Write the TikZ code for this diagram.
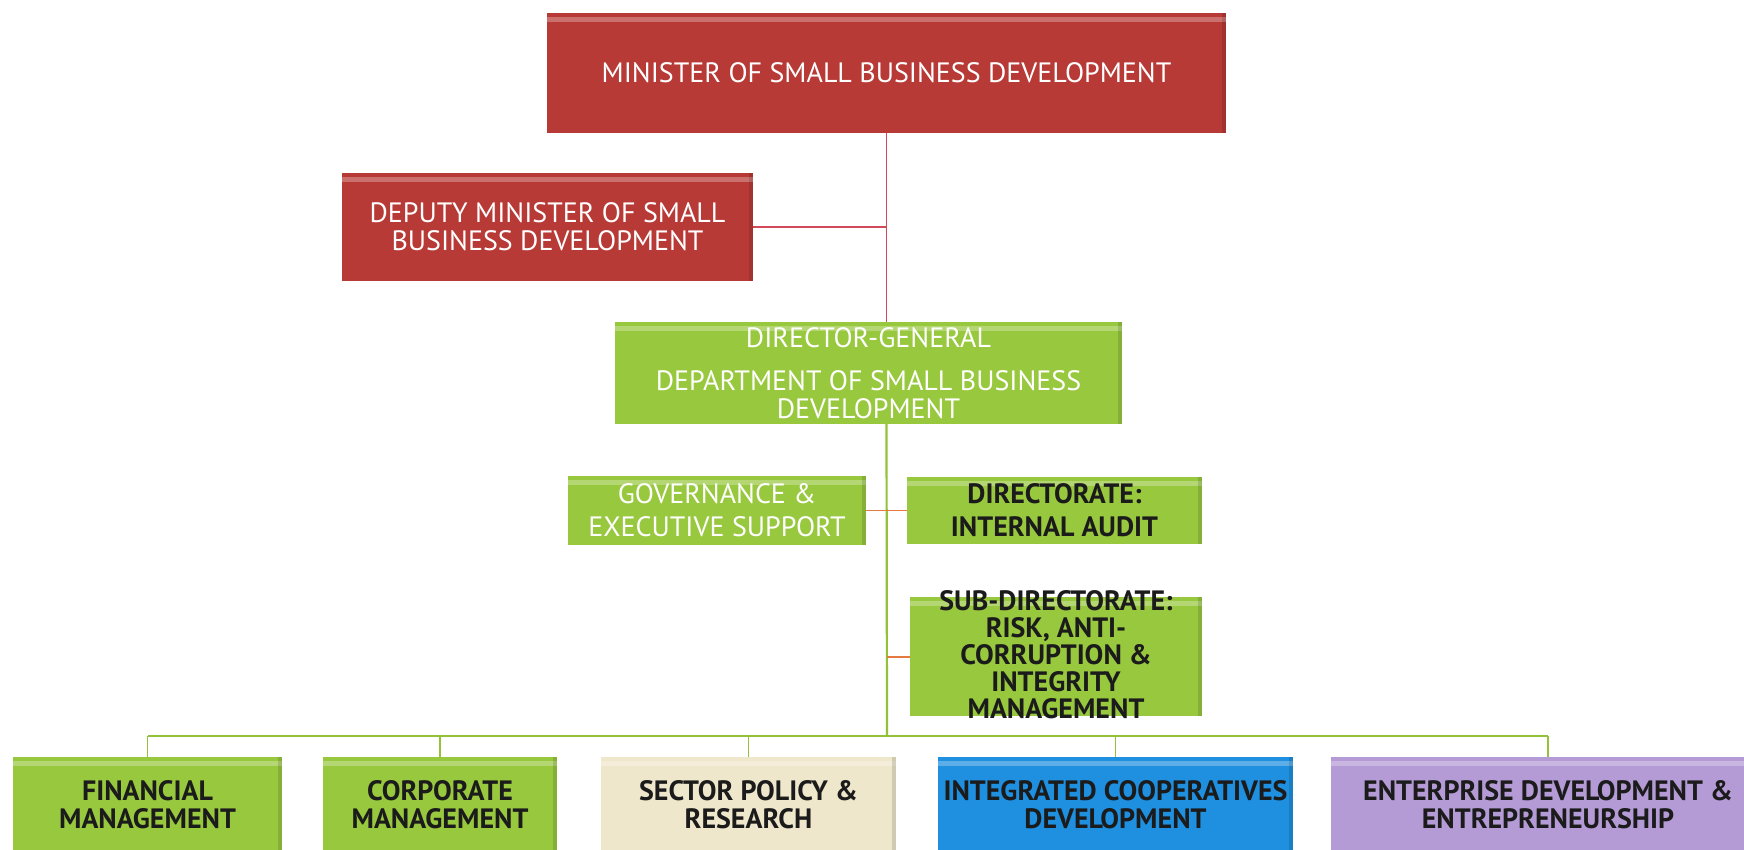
\documentclass[tikz,border=0pt]{standalone}
\usepackage{fontspec}
\setmainfont{PT Sans}
\definecolor{minred}{HTML}{B83A36}
\definecolor{dgreen}{HTML}{98C83E}
\definecolor{sand}{HTML}{EFE7CB}
\definecolor{coopblue}{HTML}{1F8FE0}
\definecolor{entviolet}{HTML}{B49BD6}
\definecolor{redline}{HTML}{D2495A}
\definecolor{greenline}{HTML}{93C23A}
\definecolor{tickline}{HTML}{E5793F}
\definecolor{darktext}{HTML}{1B1B1B}
\begin{document}
\begin{tikzpicture}[x=1pt,y=-1pt,
  box/.style={rectangle, inner sep=0pt, align=center,
    font=\fontsize{28}{28}\selectfont,
    path picture={
      \fill[white,opacity=0.28]
        ([yshift=-4pt]path picture bounding box.north west) rectangle
        ([yshift=-9pt]path picture bounding box.north east);
      \fill[black,opacity=0.12]
        ([xshift=-4pt]path picture bounding box.north east) rectangle
        (path picture bounding box.south east);}},
  redbox/.style={box, fill=minred, text=white},
  greenbox/.style={box, fill=dgreen, text=white},
  darkgreen/.style={box, fill=dgreen, text=darktext, font=\fontsize{28}{28}\selectfont\bfseries},
  lowbox/.style={box, text=darktext, minimum height=96pt, font=\fontsize{28}{28}\selectfont\bfseries},
  upline/.style={draw=redline, line width=1.6pt},
  downline/.style={draw=greenline, line width=2.2pt},
  busline/.style={draw=greenline, line width=1.4pt},
  tick/.style={draw=tickline, line width=1.8pt}
]
\useasboundingbox[fill=white] (0,0) rectangle (1744,849);

% top level
\node[redbox, minimum width=679pt, minimum height=120pt] (minister) at (886.5,73)
  {MINISTER OF SMALL BUSINESS DEVELOPMENT};
\node[redbox, minimum width=411pt, minimum height=108pt] (deputy) at (547.5,227)
  {DEPUTY MINISTER OF SMALL\\BUSINESS DEVELOPMENT};
\node[greenbox, minimum width=507pt, minimum height=102pt] (dg) at (868.5,373)
  {DIRECTOR-GENERAL\\[15pt]DEPARTMENT OF SMALL BUSINESS\\DEVELOPMENT};

% support units
\node[greenbox, minimum width=298pt, minimum height=69pt] (gov) at (717,510.5)
  {GOVERNANCE \&\\[5pt]EXECUTIVE SUPPORT};
\node[darkgreen, minimum width=295pt, minimum height=67pt] (audit) at (1054.5,510.5)
  {DIRECTORATE:\\[5pt]INTERNAL AUDIT};
\node[darkgreen, minimum width=292pt, minimum height=119pt] (risk) at (1056,656.5) {};
\node[text=darktext, align=center, inner sep=0pt,
  font=\fontsize{28}{27}\selectfont\bfseries] (risktext) at (1056,655)
  {SUB-DIRECTORATE:\\RISK, ANTI-\\CORRUPTION \&\\INTEGRITY\\MANAGEMENT};

% branches
\node[lowbox, fill=dgreen, minimum width=269pt] (fin) at (147.5,805)
  {FINANCIAL\\MANAGEMENT};
\node[lowbox, fill=dgreen, minimum width=234pt] (corp) at (440,805)
  {CORPORATE\\MANAGEMENT};
\node[lowbox, fill=sand, minimum width=295pt] (policy) at (748.5,805)
  {SECTOR POLICY \&\\RESEARCH};
\node[lowbox, fill=coopblue, minimum width=355pt] (coop) at (1115.5,805)
  {INTEGRATED COOPERATIVES\\DEVELOPMENT};
\node[lowbox, fill=entviolet, minimum width=434pt] (ent) at (1548,805)
  {ENTERPRISE DEVELOPMENT \&\\ENTREPRENEURSHIP};

% connectors
\coordinate (deptap) at (minister.south |- deputy.east);
\coordinate (bus) at (887,736);
\coordinate (risktap) at (887,657);
\draw[upline] (minister.south) -- (dg.north -| minister.south);
\draw[upline] (deputy.east) -- (deptap);
\draw[downline] (dg.south -| minister.south) -- (bus);
\draw[tick] (gov.east) -- (audit.west);
\draw[tick] (risktap) -- (risk.west |- risktap);
\draw[busline] (fin.north |- bus) -- (ent.north |- bus);
\foreach \b in {fin,corp,policy,coop,ent}
  \draw[busline] (\b.north |- bus) -- (\b.north);
\end{tikzpicture}
\end{document}
